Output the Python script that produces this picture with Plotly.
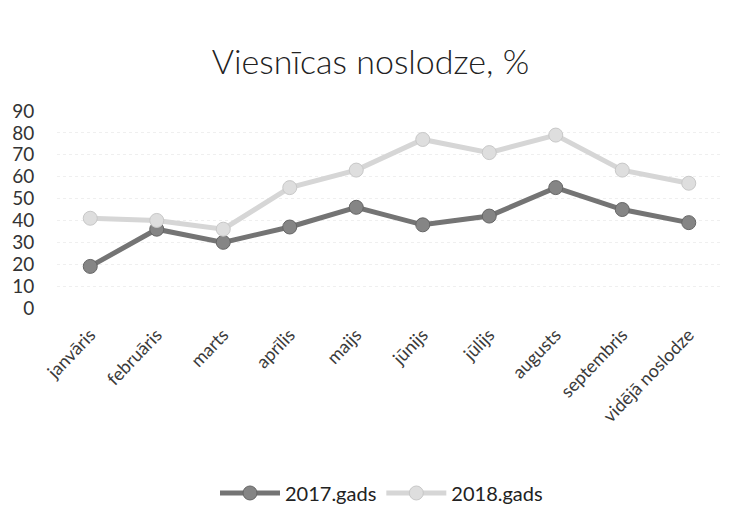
import plotly.graph_objects as go

categories = ["janvāris", "februāris", "marts", "aprīlis", "maijs", "jūnijs",
              "jūlijs", "augusts", "septembris", "vidējā noslodze"]
values_2017 = [19, 36, 30, 37, 46, 38, 42, 55, 45, 39]
values_2018 = [41, 40, 36, 55, 63, 77, 71, 79, 63, 57]
y_ticks = [0, 10, 20, 30, 40, 50, 60, 70, 80, 90]

FONT = "Lato, Open Sans, sans-serif"

fig = go.Figure()
fig.add_trace(go.Scatter(
    x=categories, y=values_2017, name="2017.gads", mode="lines+markers",
    line=dict(color="#747474", width=5),
    marker=dict(size=14, color="#858585", line=dict(color="#666666", width=1)),
))
fig.add_trace(go.Scatter(
    x=categories, y=values_2018, name="2018.gads", mode="lines+markers",
    line=dict(color="#d6d6d6", width=5),
    marker=dict(size=14, color="#dedede", line=dict(color="#c8c8c8", width=1)),
))

# page body adds an 8px offset, margins compensate for it
fig.update_layout(
    width=741, height=524,
    paper_bgcolor="white", plot_bgcolor="white",
    margin=dict(l=49, r=27, t=103, b=224),
    title=dict(text="Viesnīcas noslodze, %", x=0.5 - 8 / 741, xanchor="center",
               y=1 - 54 / 524, yanchor="middle",
               font=dict(family=FONT, size=34, color="#222222", weight=300)),
    font=dict(family=FONT, color="#333333"),
    xaxis=dict(type="category", range=[-0.5, 9.5], tickangle=-46, showgrid=False,
               showline=False, ticks="", tickfont=dict(size=18, color="#3a3a3a"),
               zeroline=False, automargin=False, ticklabelstandoff=12),
    yaxis=dict(range=[0, 90], tickvals=y_ticks, showgrid=True,
               gridcolor="#efefef", griddash="dot", zeroline=False, showline=False,
               ticks="outside", ticklen=18, tickcolor="rgba(0,0,0,0)",
               tickfont=dict(size=19, color="#333333"),
               automargin=False),
    legend=dict(orientation="h", x=0.5 - 8 / 665, xanchor="center", y=-0.939,
                yanchor="middle", font=dict(size=20, color="#222222"), itemwidth=60),
    showlegend=True,
)

fig.write_html("out.html")
